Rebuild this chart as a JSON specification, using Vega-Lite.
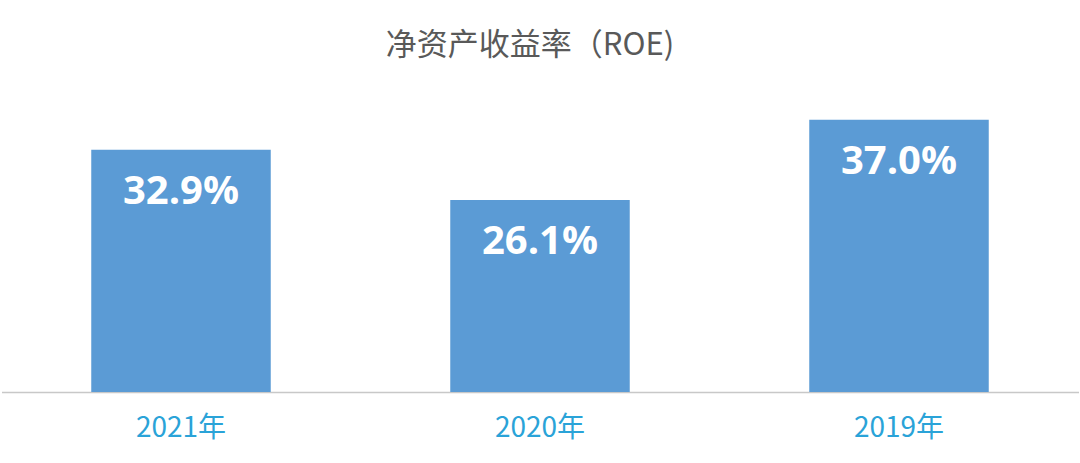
{
  "$schema": "https://vega.github.io/schema/vega-lite/v6.json",
  "autosize": "none",
  "width": 1077,
  "height": 300,
  "padding": {"left": 1.5, "right": 1.5, "top": 92, "bottom": 71},
  "background": "white",
  "title": {
    "text": "净资产收益率（ROE)",
    "font": "Noto Sans CJK SC",
    "fontSize": 31,
    "fontWeight": "normal",
    "color": "#595959",
    "anchor": "middle",
    "dx": -10,
    "offset": 30
  },
  "data": {
    "values": [
      {"year": "2021年", "roe": 32.9, "label": "32.9%"},
      {"year": "2020年", "roe": 26.1, "label": "26.1%"},
      {"year": "2019年", "roe": 37.0, "label": "37.0%"}
    ]
  },
  "encoding": {
    "x": {
      "field": "year",
      "type": "nominal",
      "sort": null,
      "scale": {"paddingInner": 0.5, "paddingOuter": 0.25},
      "axis": {
        "title": null,
        "labelAngle": 0,
        "ticks": false,
        "labelPadding": 22,
        "labelFont": "Noto Sans CJK SC",
        "labelFontSize": 28,
        "labelColor": "#2AA3D8",
        "domainColor": "#C8C8C8",
        "domainWidth": 1.5
      }
    },
    "y": {
      "field": "roe",
      "type": "quantitative",
      "scale": {"domain": [0, 40.76]},
      "axis": null
    }
  },
  "layer": [
    {"mark": {"type": "bar", "color": "#5B9BD5"}},
    {
      "mark": {
        "type": "text",
        "baseline": "middle",
        "dy": 42,
        "color": "white",
        "font": "Open Sans",
        "fontWeight": "bold",
        "fontSize": 40
      },
      "encoding": {"text": {"field": "label"}}
    }
  ],
  "config": {"view": {"stroke": null}}
}
